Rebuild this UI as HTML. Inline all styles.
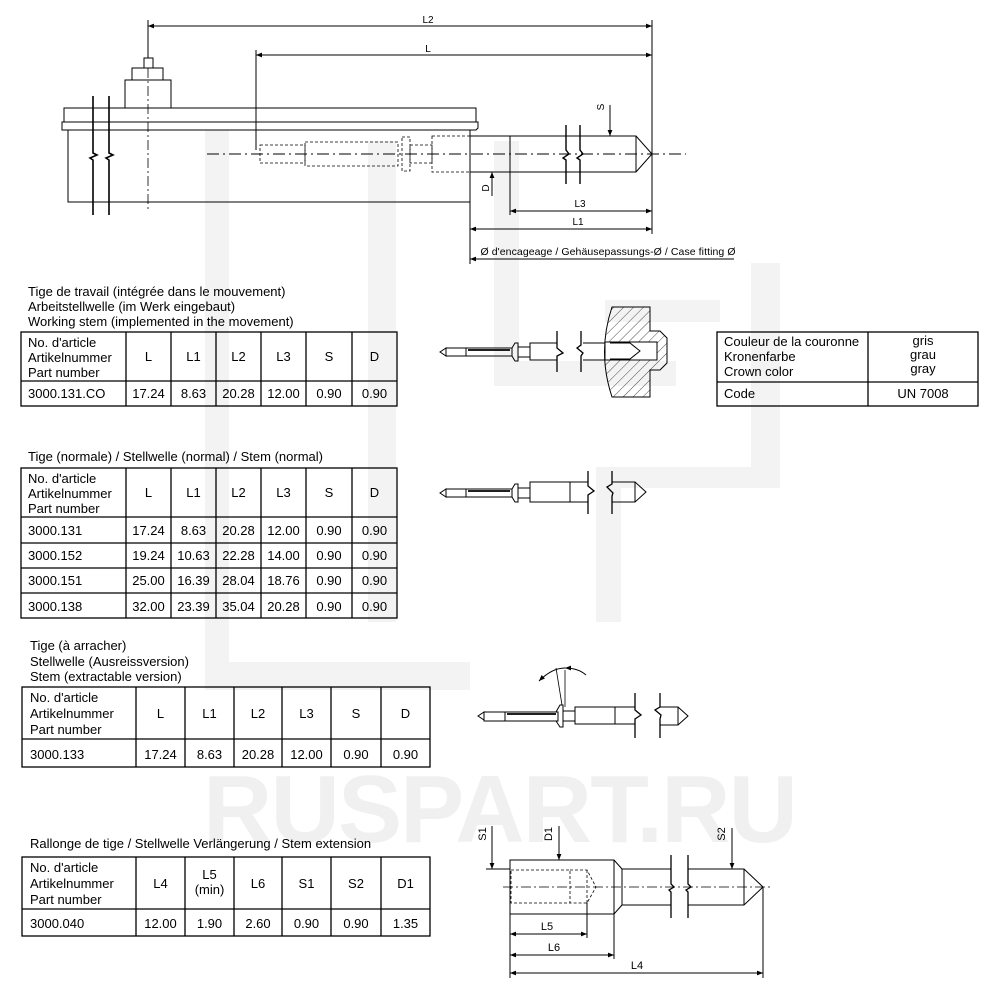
<!DOCTYPE html>
<html><head><meta charset="utf-8"><style>
html,body{margin:0;padding:0;background:#fff;}
svg{display:block;font-family:"Liberation Sans",Arial,sans-serif;}
</style></head><body>
<svg width="1000" height="1000" viewBox="0 0 1000 1000" xmlns="http://www.w3.org/2000/svg">
<defs>
<marker id="a" viewBox="0 0 10 10" refX="10" refY="5" markerWidth="8" markerHeight="6" orient="auto-start-reverse" markerUnits="userSpaceOnUse"><path d="M0,1 L10,5 L0,9 z" fill="#000"/></marker>
<pattern id="h" width="7" height="7" patternUnits="userSpaceOnUse" patternTransform="rotate(45)"><line x1="0" y1="0" x2="0" y2="7" stroke="#222" stroke-width="0.8"/></pattern>
</defs>
<!-- watermark -->
<g fill="#f3f3f3">
<rect x="205" y="130" width="24" height="560"/>
<rect x="205" y="662" width="265" height="28"/>
<rect x="368" y="141" width="28" height="481"/>
<rect x="494" y="141" width="25" height="245"/>
<rect x="494" y="361" width="182" height="25"/>
<rect x="596" y="467" width="25" height="155"/>
<rect x="600" y="467" width="170" height="21"/>
<rect x="751" y="263" width="29" height="225"/>
<rect x="605" y="300" width="115" height="22"/>
<text x="203" y="842" font-size="96" font-weight="bold" fill="#f0f0f0" textLength="595">RUSPART.RU</text>
</g>

<g stroke="#000" fill="none" stroke-width="1">
<!-- TOP DRAWING -->
<line x1="148" y1="26" x2="652" y2="26" marker-start="url(#a)" marker-end="url(#a)"/>
<line x1="256" y1="55" x2="652" y2="55" marker-start="url(#a)" marker-end="url(#a)"/>
<line x1="148" y1="20" x2="148" y2="58"/>
<line x1="256" y1="50" x2="256" y2="150"/>
<line x1="652" y1="20" x2="652" y2="234"/>
<rect x="144" y="58" width="9" height="10"/>
<rect x="132" y="68" width="31" height="12"/>
<rect x="125" y="80" width="46" height="28"/>
<rect x="64" y="108" width="412" height="14"/>
<path d="M62,122 H478 V128 L476,130 H62 Z"/>
<path d="M68,130 V202 H470 V130"/>
<g stroke-width="1.6">
<path d="M93,96 V153 L97,155 L90,158 L93,160 V215"/>
<path d="M109,96 V153 L113,155 L106,158 L109,160 V215"/>
</g>
<line x1="148" y1="68" x2="148" y2="212" stroke-dasharray="10,3,2,3" stroke-width="0.8"/>
<line x1="207" y1="154" x2="686" y2="154" stroke-dasharray="12,4,2,4" stroke-width="0.9"/>
<g stroke-dasharray="3,2" stroke-width="0.8">
<rect x="260" y="145" width="45" height="18"/>
<rect x="305" y="142" width="93" height="24"/>
<rect x="402" y="137" width="8" height="34"/>
<rect x="410" y="145" width="22" height="18"/>
<rect x="432" y="136" width="38" height="36"/>
</g>
<path d="M470,136 H636 L652,154 L636,172 H470"/>
<line x1="636" y1="136" x2="636" y2="172"/>
<line x1="510" y1="136" x2="510" y2="172"/>
<g stroke-width="1.4">
<path d="M566,125 V150 L569,154 L563,158 L566,160 V184"/>
<path d="M580,125 V150 L583,154 L577,158 L580,160 V184"/>
</g>
<line x1="492" y1="196" x2="492" y2="172" marker-end="url(#a)"/>
<line x1="610" y1="105" x2="610" y2="136" marker-end="url(#a)"/>
<line x1="510" y1="172" x2="510" y2="215"/>
<line x1="510" y1="211" x2="652" y2="211" marker-start="url(#a)" marker-end="url(#a)"/>
<line x1="470" y1="172" x2="470" y2="264"/>
<line x1="470" y1="229" x2="652" y2="229" marker-start="url(#a)" marker-end="url(#a)"/>
<line x1="470" y1="259" x2="734" y2="259" marker-start="url(#a)"/>

<!-- DRAWING 2 working stem -->
<path d="M446,348 L440,352 L446,356 Z"/>
<rect x="446" y="348" width="20" height="8"/>
<rect x="466" y="348" width="46" height="8"/>
<line x1="468" y1="350" x2="510" y2="350" stroke-width="1.8"/>
<path d="M512,348 L515,343 H518 V361 H515 L512,356"/>
<rect x="518" y="347" width="12" height="10"/>
<path d="M557,343 H530 V360 H557"/>
<path d="M557,331 V348 L563,353 L557,356 V372" stroke-width="1.3"/>
<path d="M581,331 V345 L577,348 L583,353 L581,356 V372" stroke-width="1.3"/>
<path d="M583,343 H608 M583,360 H608"/>
<path d="M612,307 H650 V331 H660 L667,338 V363 L660,370 H650 V397 H612 Q597,352 612,307 Z" fill="url(#h)"/>
<path d="M605,342 H657 V360 H605 Z" fill="#fff"/>
<path d="M610,343 L630,343 L640,351 L630,359 L610,359" />

<!-- DRAWING 3 normal stem -->
<path d="M446,489 L440,493 L446,497 Z"/>
<rect x="446" y="489" width="20" height="8"/>
<rect x="466" y="489" width="46" height="8"/>
<line x1="468" y1="491" x2="510" y2="491" stroke-width="1.8"/>
<path d="M512,489 L515,484 H518 V502 H515 L512,497"/>
<rect x="518" y="488" width="12" height="10"/>
<rect x="530" y="482" width="40" height="20"/>
<path d="M570,482 H588 M570,502 H588"/>
<path d="M588,471 V486 L594,491 L588,495 V514" stroke-width="1.3"/>
<path d="M612,471 V484 L607,487 L613,493 L612,496 V514" stroke-width="1.3"/>
<path d="M612,482 H635 L646,492 L635,502 H612"/>
<line x1="635" y1="482" x2="635" y2="502"/>

<!-- DRAWING 4 extractable -->
<path d="M484,712 L478,716 L484,720 Z"/>
<rect x="484" y="712" width="21" height="9"/>
<rect x="505" y="712" width="53" height="9"/>
<line x1="507" y1="714" x2="556" y2="714" stroke-width="1.8"/>
<path d="M556,712 L560,705 H563 V727 H560 L556,721"/>
<rect x="563" y="711" width="12" height="10"/>
<rect x="575" y="707" width="40" height="17"/>
<path d="M615,707 H635 M615,724 H635"/>
<path d="M635,693 V710 L641,715 L635,719 V738" stroke-width="1.3"/>
<path d="M660,693 V707 L655,710 L661,715 L660,719 V738" stroke-width="1.3"/>
<path d="M660,707 H678 L688,716 L678,725 H660"/>
<line x1="678" y1="707" x2="678" y2="725"/>
<line x1="562" y1="705" x2="556" y2="668" stroke-width="0.8"/>
<line x1="565" y1="670" x2="565" y2="707" stroke-width="0.8"/>
<path d="M539,681 Q552,668 565,668" marker-start="url(#a)"/>
<path d="M565,668 Q578,668 586,675" marker-start="url(#a)"/>

<!-- DRAWING 5 extension -->
<line x1="503" y1="887" x2="770" y2="887" stroke-dasharray="10,3,2,3" stroke-width="0.8"/>
<path d="M510,860 H614 L622,869 V905 L614,914 H510 Z"/>
<line x1="614" y1="860" x2="614" y2="914"/>
<path d="M622,869 H671 M622,905 H671"/>
<path d="M688,869 H744 L763,887 L744,905 H688"/>
<line x1="744" y1="869" x2="744" y2="905"/>
<path d="M671,855 V884 L674,887 L669,890 L671,892 V918" stroke-width="1.3"/>
<path d="M688,855 V884 L691,887 L686,890 L688,892 V918" stroke-width="1.3"/>
<g stroke-dasharray="3,2" stroke-width="0.8">
<rect x="511" y="870" width="59" height="33"/>
<path d="M570,870 H587 L596,887 L587,903 H570 M587,870 V903"/>
</g>
<line x1="492" y1="826" x2="492" y2="869" marker-end="url(#a)"/>
<line x1="486" y1="869" x2="510" y2="869"/>
<line x1="559" y1="826" x2="559" y2="860" marker-end="url(#a)"/>
<line x1="732" y1="828" x2="732" y2="869" marker-end="url(#a)"/>
<line x1="510" y1="914" x2="510" y2="978"/>
<line x1="587" y1="903" x2="587" y2="938"/>
<line x1="614" y1="914" x2="614" y2="959"/>
<line x1="763" y1="887" x2="763" y2="978"/>
<line x1="510" y1="934" x2="587" y2="934" marker-start="url(#a)" marker-end="url(#a)"/>
<line x1="510" y1="955" x2="614" y2="955" marker-start="url(#a)" marker-end="url(#a)"/>
<line x1="510" y1="973" x2="763" y2="973" marker-start="url(#a)" marker-end="url(#a)"/>
</g>

<!-- drawing labels -->
<g font-size="10" fill="#000" text-anchor="middle">
<text x="428" y="23">L2</text>
<text x="428" y="52">L</text>
<text x="580" y="207">L3</text>
<text x="578" y="225">L1</text>
<text x="489" y="188" transform="rotate(-90 489 188)" dy="0">D</text>
<text x="607" y="110" transform="rotate(-90 604 110)">S</text>
<text x="608" y="255" font-size="10.5" textLength="255">Ø d'encageage / Gehäusepassungs-Ø / Case fitting Ø</text>
<text x="547" y="930" font-size="11">L5</text>
<text x="554" y="951" font-size="11">L6</text>
<text x="637" y="969" font-size="11">L4</text>
<text x="490" y="838" font-size="11" transform="rotate(-90 486 838)">S1</text>
<text x="556" y="838" font-size="11" transform="rotate(-90 552 838)">D1</text>
<text x="729" y="838" font-size="11" transform="rotate(-90 725 838)">S2</text>
</g>

<!-- TABLES -->
<g font-size="13" fill="#000">
<text x="28" y="296">Tige de travail (intégrée dans le mouvement)</text>
<text x="28" y="311">Arbeitstellwelle (im Werk eingebaut)</text>
<text x="28" y="326">Working stem (implemented in the movement)</text>
<text x="28" y="461">Tige (normale) / Stellwelle (normal) / Stem (normal)</text>
<text x="30" y="650">Tige (à arracher)</text>
<text x="30" y="666">Stellwelle (Ausreissversion)</text>
<text x="30" y="681">Stem (extractable version)</text>
<text x="30" y="848">Rallonge de tige / Stellwelle Verlängerung / Stem extension</text>
</g>
<g stroke="#000" stroke-width="1.3" fill="none">
<rect x="21" y="332" width="376" height="74"/>
<line x1="21" y1="381" x2="397" y2="381"/>
<path d="M126,332V406 M171,332V406 M216,332V406 M261,332V406 M306,332V406 M352,332V406"/>
<rect x="21" y="468" width="376" height="150"/>
<path d="M21,517H397 M21,543H397 M21,568H397 M21,593H397"/>
<path d="M126,468V618 M171,468V618 M216,468V618 M261,468V618 M306,468V618 M352,468V618"/>
<rect x="22" y="687" width="408" height="80"/>
<line x1="22" y1="739" x2="430" y2="739"/>
<path d="M136,687V767 M185,687V767 M234,687V767 M282,687V767 M331,687V767 M381,687V767"/>
<rect x="22" y="857" width="408" height="79"/>
<line x1="22" y1="909" x2="430" y2="909"/>
<path d="M136,857V936 M185,857V936 M234,857V936 M282,857V936 M331,857V936 M381,857V936"/>
<rect x="717" y="332" width="261" height="74"/>
<line x1="717" y1="382" x2="978" y2="382"/>
<line x1="868" y1="332" x2="868" y2="406"/>
</g>
<g font-size="13" fill="#000">
<text x="28" y="347">No. d'article</text><text x="28" y="362">Artikelnummer</text><text x="28" y="377">Part number</text>
<g text-anchor="middle">
<text x="148.5" y="361">L</text><text x="193.5" y="361">L1</text><text x="238.5" y="361">L2</text><text x="283.5" y="361">L3</text><text x="329" y="361">S</text><text x="374.5" y="361">D</text>
<text x="148.5" y="398">17.24</text><text x="193.5" y="398">8.63</text><text x="238.5" y="398">20.28</text><text x="283.5" y="398">12.00</text><text x="329" y="398">0.90</text><text x="374.5" y="398">0.90</text>
</g>
<text x="28" y="398">3000.131.CO</text>
<text x="28" y="483">No. d'article</text><text x="28" y="498">Artikelnummer</text><text x="28" y="513">Part number</text>
<text x="28" y="535">3000.131</text><text x="28" y="560">3000.152</text><text x="28" y="585">3000.151</text><text x="28" y="611">3000.138</text>
<g text-anchor="middle">
<text x="148.5" y="497">L</text><text x="193.5" y="497">L1</text><text x="238.5" y="497">L2</text><text x="283.5" y="497">L3</text><text x="329" y="497">S</text><text x="374.5" y="497">D</text>
<text x="148.5" y="535">17.24</text><text x="193.5" y="535">8.63</text><text x="238.5" y="535">20.28</text><text x="283.5" y="535">12.00</text><text x="329" y="535">0.90</text><text x="374.5" y="535">0.90</text>
<text x="148.5" y="560">19.24</text><text x="193.5" y="560">10.63</text><text x="238.5" y="560">22.28</text><text x="283.5" y="560">14.00</text><text x="329" y="560">0.90</text><text x="374.5" y="560">0.90</text>
<text x="148.5" y="585">25.00</text><text x="193.5" y="585">16.39</text><text x="238.5" y="585">28.04</text><text x="283.5" y="585">18.76</text><text x="329" y="585">0.90</text><text x="374.5" y="585">0.90</text>
<text x="148.5" y="611">32.00</text><text x="193.5" y="611">23.39</text><text x="238.5" y="611">35.04</text><text x="283.5" y="611">20.28</text><text x="329" y="611">0.90</text><text x="374.5" y="611">0.90</text>
</g>
<text x="30" y="702">No. d'article</text><text x="30" y="718">Artikelnummer</text><text x="30" y="734">Part number</text>
<text x="30" y="759">3000.133</text>
<g text-anchor="middle">
<text x="160.5" y="718">L</text><text x="209.5" y="718">L1</text><text x="258" y="718">L2</text><text x="306.5" y="718">L3</text><text x="356" y="718">S</text><text x="405.5" y="718">D</text>
<text x="160.5" y="759">17.24</text><text x="209.5" y="759">8.63</text><text x="258" y="759">20.28</text><text x="306.5" y="759">12.00</text><text x="356" y="759">0.90</text><text x="405.5" y="759">0.90</text>
</g>
<text x="30" y="872">No. d'article</text><text x="30" y="888">Artikelnummer</text><text x="30" y="904">Part number</text>
<text x="30" y="928">3000.040</text>
<g text-anchor="middle">
<text x="160.5" y="888">L4</text><text x="209.5" y="879">L5</text><text x="209.5" y="894">(min)</text><text x="258" y="888">L6</text><text x="306.5" y="888">S1</text><text x="356" y="888">S2</text><text x="405.5" y="888">D1</text>
<text x="160.5" y="928">12.00</text><text x="209.5" y="928">1.90</text><text x="258" y="928">2.60</text><text x="306.5" y="928">0.90</text><text x="356" y="928">0.90</text><text x="405.5" y="928">1.35</text>
</g>
<text x="724" y="346">Couleur de la couronne</text><text x="724" y="361">Kronenfarbe</text><text x="724" y="376">Crown color</text>
<text x="724" y="398">Code</text>
<g text-anchor="middle">
<text x="923" y="345">gris</text><text x="923" y="359">grau</text><text x="923" y="373">gray</text>
<text x="923" y="398">UN 7008</text>
</g>
</g>
</svg>
</body></html>
